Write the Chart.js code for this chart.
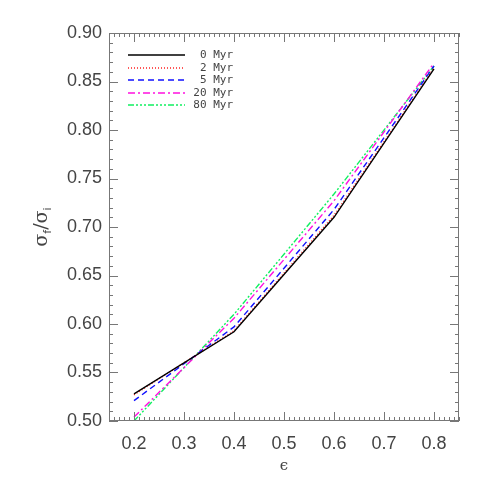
<!DOCTYPE html>
<html>
<head>
<meta charset="utf-8">
<script src="https://cdn.jsdelivr.net/npm/chart.js@4"></script>
<style>
  html, body { margin: 0; padding: 0; background: #fff; }
  #wrap { width: 491px; height: 491px; }
</style>
</head>
<body>
<div id="wrap"><canvas id="chart" width="491" height="491"></canvas></div>
<script>
// epsilon values along the x axis
const epsilon = [0.2, 0.4, 0.6, 0.8];
const xTicks = [0.2, 0.3, 0.4, 0.5, 0.6, 0.7, 0.8];
const yTicks = [0.50, 0.55, 0.60, 0.65, 0.70, 0.75, 0.80, 0.85, 0.90];

// sigma_f / sigma_i for each age
const labels = ['0 Myr', '2 Myr', '5 Myr', '20 Myr', '80 Myr'];
const age0 = [0.528, 0.592, 0.710, 0.863];
const age2 = [0.527, 0.593, 0.712, 0.864];
const age5 = [0.521, 0.597, 0.718, 0.866];
const age20 = [0.504, 0.606, 0.727, 0.869];
const age80 = [0.500, 0.610, 0.734, 0.866];

const styles = [
  { color: '#000000', dash: [] },
  { color: '#ff2020', dash: [1, 2] },
  { color: '#1010ff', dash: [6, 4] },
  { color: '#ff10e0', dash: [7, 3, 2, 3] },
  { color: '#10f060', dash: [6, 2, 2, 2, 2, 2, 2, 2] }
];

const series = [age0, age2, age5, age20, age80];
const datasets = series.map((vals, i) => ({
  label: labels[i],
  data: vals.map((v, j) => ({ x: epsilon[j], y: v })),
  borderColor: styles[i].color,
  borderDash: styles[i].dash,
  borderWidth: 1.4,
  pointRadius: 0,
  fill: false,
  tension: 0
}));

const textColor = '#444';

// frame with IDL-style inward ticks on all four sides
const framePlugin = {
  id: 'frame',
  afterDatasetsDraw(chart) {
    const { ctx, chartArea: a, scales } = chart;
    const xs = scales.x, ys = scales.y;
    ctx.save();
    ctx.strokeStyle = '#777';
    ctx.lineWidth = 1;
    ctx.strokeRect(a.left + 0.5, a.top + 0.5, a.right - a.left - 1, a.bottom - a.top - 1);
    ctx.beginPath();
    for (let i = 15; i <= 85; i++) {
      const v = i / 100;
      const px = Math.round(xs.getPixelForValue(v)) + 0.5;
      const len = i % 10 === 0 ? 9 : 4;
      ctx.moveTo(px, a.bottom); ctx.lineTo(px, a.bottom - len);
      ctx.moveTo(px, a.top); ctx.lineTo(px, a.top + len);
    }
    for (let i = 50; i <= 90; i++) {
      const v = i / 100;
      const py = Math.round(ys.getPixelForValue(v)) + 0.5;
      const len = i % 5 === 0 ? 9 : 4;
      ctx.moveTo(a.left, py); ctx.lineTo(a.left + len, py);
      ctx.moveTo(a.right, py); ctx.lineTo(a.right - len, py);
    }
    ctx.stroke();
    ctx.restore();
  }
};

// legend in the upper left corner, labels right-aligned
const legendPlugin = {
  id: 'innerLegend',
  afterDatasetsDraw(chart) {
    const { ctx, chartArea: a } = chart;
    ctx.save();
    ctx.font = '11px "DejaVu Sans Mono", monospace';
    ctx.textAlign = 'right';
    ctx.textBaseline = 'middle';
    labels.forEach((label, i) => {
      const y = Math.round(a.top + 22 + i * 12.5);
      ctx.strokeStyle = styles[i].color;
      ctx.lineWidth = 1.4;
      ctx.setLineDash(styles[i].dash);
      ctx.beginPath();
      ctx.moveTo(a.left + 19, y);
      ctx.lineTo(a.left + 76, y);
      ctx.stroke();
      ctx.setLineDash([]);
      ctx.fillStyle = textColor;
      ctx.fillText(label, a.left + 124, y);
    });
    ctx.restore();
  }
};

// axis titles, the y title needs subscripts
const titlePlugin = {
  id: 'titles',
  afterDraw(chart) {
    const { ctx, chartArea: a } = chart;
    ctx.save();
    ctx.fillStyle = textColor;
    ctx.textBaseline = 'middle';
    ctx.textAlign = 'center';
    ctx.font = '15px "DejaVu Serif", serif';
    ctx.fillText('ϵ', (a.left + a.right) / 2, 466);

    ctx.translate(42, (a.top + a.bottom) / 2);
    ctx.rotate(-Math.PI / 2);
    const big = '19px "DejaVu Serif", serif';
    const small = '11px "DejaVu Sans", sans-serif';
    const parts = [['σ', big, 0], ['f', small, 6], ['/', big, 0], ['σ', big, 0], ['i', small, 6]];
    let w = 0;
    parts.forEach(p => { ctx.font = p[1]; w += ctx.measureText(p[0]).width; });
    let x = -w / 2;
    ctx.textAlign = 'left';
    parts.forEach(p => {
      ctx.font = p[1];
      ctx.fillText(p[0], x, p[2]);
      x += ctx.measureText(p[0]).width;
    });
    ctx.restore();
  }
};

new Chart(document.getElementById('chart'), {
  type: 'line',
  data: { datasets },
  plugins: [framePlugin, legendPlugin, titlePlugin],
  options: {
    responsive: false,
    animation: false,
    layout: { padding: { top: 33, right: 32, left: 0, bottom: 0 } },
    plugins: { legend: { display: false }, tooltip: { enabled: false } },
    scales: {
      x: {
        type: 'linear',
        min: 0.15,
        max: 0.85,
        afterBuildTicks: axis => { axis.ticks = xTicks.map(v => ({ value: v })); },
        afterFit: scale => { scale.height = 70; },
        grid: { display: false, drawTicks: false },
        border: { display: false },
        ticks: {
          padding: 12,
          color: textColor,
          font: { family: 'Liberation Sans', size: 18 },
          callback: v => v.toFixed(1)
        }
      },
      y: {
        min: 0.5,
        max: 0.9,
        afterBuildTicks: axis => { axis.ticks = yTicks.map(v => ({ value: v })); },
        afterFit: scale => { scale.width = 109; },
        grid: { display: false, drawTicks: false },
        border: { display: false },
        ticks: {
          padding: 7,
          color: textColor,
          font: { family: 'Liberation Sans', size: 18 },
          callback: v => v.toFixed(2)
        }
      }
    }
  }
});
</script>
</body>
</html>
